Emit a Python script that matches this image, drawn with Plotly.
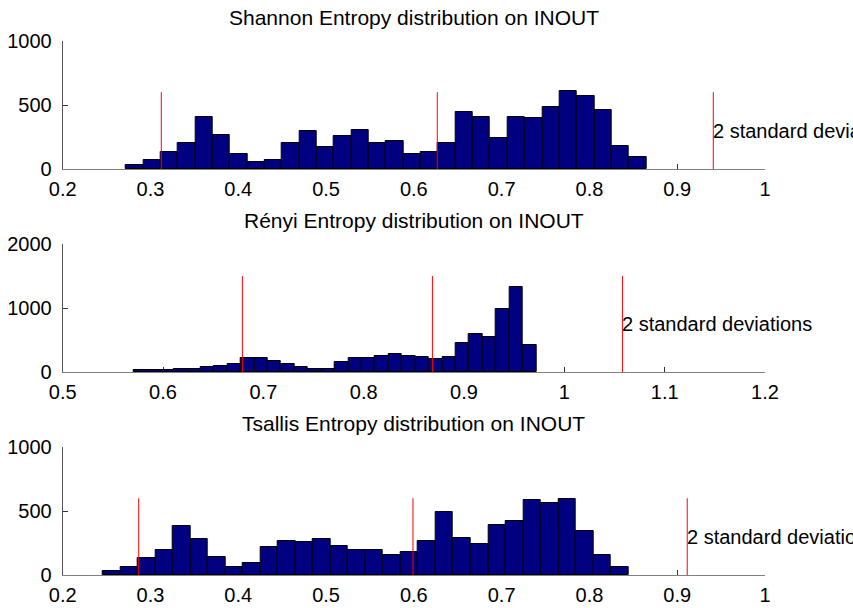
import plotly.graph_objects as go

# ---------------- data ----------------
titles = ["Shannon Entropy distribution on INOUT",
          "Rényi Entropy distribution on INOUT",
          "Tsallis Entropy distribution on INOUT"]

shannon_counts = [29, 68, 130, 206, 406, 268, 117, 55, 68, 206,
                  294, 169, 255, 307, 206, 219, 117, 130, 206, 445,
                  406, 242, 406, 396, 484, 609, 573, 458, 180, 91]
shannon_bin_start = 0.272
shannon_bin_width = 0.01976
shannon_mean = 0.6267
shannon_sd = 0.1572
shannon_line_height = 600

renyi_counts = [26, 26, 26, 47, 47, 73, 99, 125, 224, 224,
                172, 125, 73, 47, 47, 151, 224, 224, 250, 276,
                250, 229, 203, 229, 448, 599, 552, 984, 1333, 427]
renyi_bin_start = 0.5704
renyi_bin_width = 0.01339
renyi_mean = 0.8685
renyi_sd = 0.0947
renyi_line_height = 1500

tsallis_counts = [29, 65, 130, 195, 380, 279, 141, 65, 91, 216,
                  268, 255, 279, 229, 195, 195, 154, 180, 268, 495,
                  292, 240, 391, 419, 586, 560, 596, 344, 154, 65]
tsallis_bin_start = 0.2456
tsallis_bin_width = 0.01996
tsallis_mean = 0.599
tsallis_sd = 0.1562
tsallis_line_height = 600

x_ranges = [[0.2, 1.0], [0.5, 1.2], [0.2, 1.0]]
x_tickvals = [[0.2, 0.3, 0.4, 0.5, 0.6, 0.7, 0.8, 0.9, 1.0],
              [0.5, 0.6, 0.7, 0.8, 0.9, 1.0, 1.1, 1.2],
              [0.2, 0.3, 0.4, 0.5, 0.6, 0.7, 0.8, 0.9, 1.0]]
x_ticktext = [["0.2", "0.3", "0.4", "0.5", "0.6", "0.7", "0.8", "0.9", "1"],
              ["0.5", "0.6", "0.7", "0.8", "0.9", "1", "1.1", "1.2"],
              ["0.2", "0.3", "0.4", "0.5", "0.6", "0.7", "0.8", "0.9", "1"]]
y_ranges = [[0, 1000], [0, 2000], [0, 1000]]
y_tickvals = [[0, 500, 1000], [0, 1000, 2000], [0, 500, 1000]]
annotation_text = "2 standard deviations"

# ---------------- figure ----------------
W, H = 853, 608
FONT = "Liberation Sans, Arial, Helvetica, sans-serif"

x_dom = [62.7 / W, 765.0 / W]
# pixel top/bottom of each axes (from top of image)
axes_px = [(41, 169), (244, 372), (447, 575)]
y_doms = [[1 - b / H, 1 - t / H] for t, b in axes_px]

series = [
    (shannon_counts, shannon_bin_start, shannon_bin_width, shannon_mean, shannon_sd, shannon_line_height),
    (renyi_counts, renyi_bin_start, renyi_bin_width, renyi_mean, renyi_sd, renyi_line_height),
    (tsallis_counts, tsallis_bin_start, tsallis_bin_width, tsallis_mean, tsallis_sd, tsallis_line_height),
]

fig = go.Figure()
annotations = []
layout = dict(
    width=W, height=H,
    margin=dict(l=0, r=0, t=0, b=0, autoexpand=False),
    paper_bgcolor="white", plot_bgcolor="white",
    showlegend=False, bargap=0,
    font=dict(family=FONT, size=20, color="black"),
)

for i, (counts, start, width, mean, sd, lh) in enumerate(series):
    k = "" if i == 0 else str(i + 1)
    xa, ya = "x" + k, "y" + k
    centers = [start + (j + 0.5) * width for j in range(len(counts))]
    fig.add_trace(go.Bar(
        x=centers, y=counts, width=[width] * len(counts),
        xaxis=xa, yaxis=ya,
        marker=dict(color="#000080", line=dict(color="black", width=1)),
        hoverinfo="skip",
    ))
    lx = [mean - 2 * sd, mean - 2 * sd, None, mean, mean, None, mean + 2 * sd, mean + 2 * sd]
    ly = [0, lh, None, 0, lh, None, 0, lh]
    fig.add_trace(go.Scatter(
        x=lx, y=ly, mode="lines", xaxis=xa, yaxis=ya,
        line=dict(color="red", width=1), hoverinfo="skip", cliponaxis=False,
    ))
    annotations.append(dict(
        x=mean + 2 * sd, y=lh / 2, xref=xa, yref=ya,
        text=annotation_text, showarrow=False,
        xanchor="left", yanchor="middle", xshift=-2,
        font=dict(family=FONT, size=20, color="black"),
    ))
    top_px = axes_px[i][0]
    annotations.append(dict(
        x=(x_dom[0] + x_dom[1]) / 2, y=1 - (top_px - 24) / H,
        xref="paper", yref="paper", text=titles[i], showarrow=False,
        xanchor="center", yanchor="middle",
        font=dict(family=FONT, size=21, color="black"),
    ))
    layout["xaxis" + k] = dict(
        domain=x_dom, anchor=ya, range=x_ranges[i], automargin=False,
        tickvals=x_tickvals[i], ticktext=x_ticktext[i],
        showline=True, linecolor="#808080", linewidth=1,
        ticks="inside", ticklen=5, tickcolor="#333333", tickwidth=1,
        showgrid=False, zeroline=False, layer="below traces",
        ticklabelstandoff=2,
        tickfont=dict(family=FONT, size=20, color="black"),
    )
    layout["yaxis" + k] = dict(
        domain=y_doms[i], anchor=xa, range=y_ranges[i], automargin=False,
        tickvals=y_tickvals[i],
        showline=True, linecolor="#555555", linewidth=1,
        ticks="inside", ticklen=5, tickcolor="#333333", tickwidth=1,
        showgrid=False, zeroline=False, layer="below traces",
        ticklabelstandoff=6,
        tickfont=dict(family=FONT, size=20, color="black"),
    )

layout["annotations"] = annotations
fig.update_layout(**layout)
fig.write_html("out.html")
